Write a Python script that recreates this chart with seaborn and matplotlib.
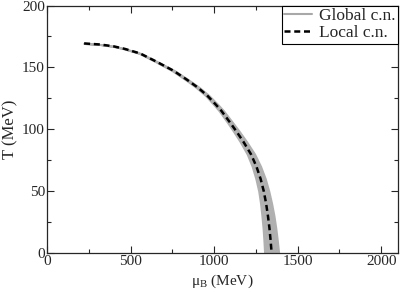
import numpy as np
import pandas as pd
import matplotlib
matplotlib.use("Agg")
import matplotlib.pyplot as plt
import seaborn as sns
from matplotlib.ticker import MultipleLocator

# ==========================================
# Data
# ==========================================

# temperature along the transition line (MeV)
temp = [169.4, 168.5, 167.0, 165.0, 161.3, 155.0, 147.4, 140.0, 134.0,
        127.4, 120.0, 115.0, 105.0, 98.0, 90.0, 80.0, 70.0, 60.0, 50.0,
        40.0, 30.0, 20.0, 10.0, 0.0]
# baryon chemical potential, local canonical (MeV)
mu_local = [222, 320, 400, 465, 557, 650, 756, 838, 900,
            958, 1010, 1043, 1098, 1135, 1175, 1220, 1253, 1278, 1297,
            1311, 1322, 1331, 1338, 1344]
# half width of the global canonical band (MeV)
band_half = [2, 2, 3, 3, 4, 5, 7, 8, 9,
             10, 12, 13, 15, 17, 19, 22, 25, 28, 30,
             33, 36, 38, 40, 42]

df = pd.DataFrame({"T": temp, "mu": mu_local, "w": band_half})
df["lo"] = df["mu"] - df["w"]
df["hi"] = df["mu"] + df["w"]

# ==========================================
# Style
# ==========================================

sns.set_style("ticks")
plt.rcParams["font.family"] = ["Liberation Serif", "DejaVu Serif"]
plt.rcParams["mathtext.fontset"] = "custom"
plt.rcParams["mathtext.rm"] = "Liberation Serif"
plt.rcParams["mathtext.it"] = "Liberation Serif"
plt.rcParams["mathtext.default"] = "regular"

fig = plt.figure(figsize=(4, 2.91), dpi=100)
ax = fig.add_axes([0.1175, 0.13, 0.8775, 0.851])

# Global c.n. band
band_col = "#b0b0b0"
ax.fill_betweenx(df["T"], df["lo"], df["hi"], color=band_col,
                 edgecolor=band_col, linewidth=1.5)
ax.plot([], [], color="#a8a8a8", lw=1.5, label="Global c.n.")

# Local c.n. line
sns.lineplot(data=df, x="mu", y="T", sort=False, color="black",
             lw=1.8, ax=ax, label="Local c.n.")
ax.lines[-1].set_dashes((2.4, 1.5))

ax.set_xlim(0, 2100)
ax.set_ylim(0, 200)
ax.xaxis.set_major_locator(MultipleLocator(500))
ax.xaxis.set_minor_locator(MultipleLocator(250))
ax.yaxis.set_major_locator(MultipleLocator(50))
ax.yaxis.set_minor_locator(MultipleLocator(25))
ax.tick_params(which="both", direction="in", top=True, right=True,
               labelsize=11, width=0.8, pad=1.5)
ax.tick_params(which="major", length=5)
ax.tick_params(which="minor", length=3)
for s in ax.spines.values():
    s.set_linewidth(0.9)

ax.set_xlabel(r"$\mu_B$ (MeV)", fontsize=11, va="bottom")
ax.set_ylabel("T (MeV)", fontsize=12, va="center")
ax.xaxis.set_label_coords(0.5, -0.15)
ax.yaxis.set_label_coords(-0.105, 0.5)

leg = ax.legend(loc="upper right", fontsize=12.5, fancybox=False,
                framealpha=1, edgecolor="black", borderaxespad=0,
                handlelength=1.6, handletextpad=0.4, borderpad=0.15,
                labelspacing=0.05)
leg.get_frame().set_linewidth(0.8)

fig.savefig("out.png", dpi=100)
